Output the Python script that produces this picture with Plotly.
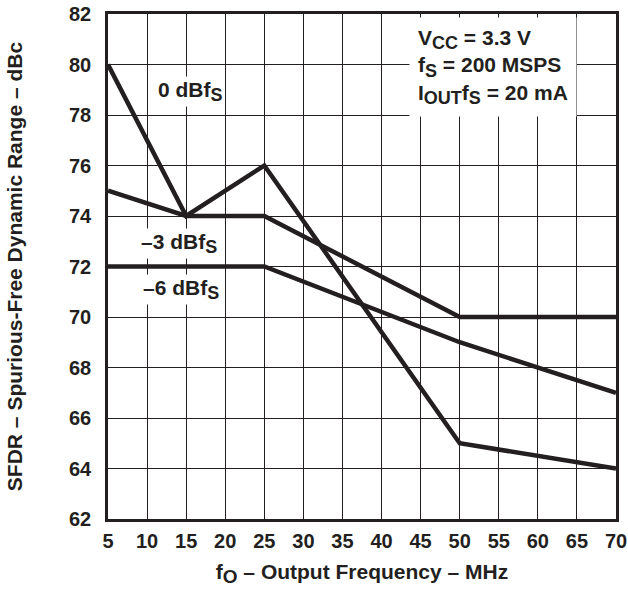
import plotly.graph_objects as go

x_0dbfs = [5, 15, 25, 50, 70]
y_0dbfs = [80, 74, 76, 65, 64]
x_3dbfs = [5, 15, 25, 50, 70]
y_3dbfs = [75, 74, 74, 70, 70]
x_6dbfs = [5, 25, 50, 70]
y_6dbfs = [72, 72, 69, 67]

x_ticks = list(range(5, 71, 5))
y_ticks = list(range(62, 83, 2))

FONT = "Liberation Sans, Arial, sans-serif"
INK = "#231f20"


def sub(t, size=18):
    return f"<sub><span style='font-size:{size}px'>{t}</span></sub>"


fig = go.Figure()
for xs, ys in [(x_0dbfs, y_0dbfs), (x_3dbfs, y_3dbfs), (x_6dbfs, y_6dbfs)]:
    fig.add_trace(go.Scatter(x=xs, y=ys, mode="lines",
                             line=dict(color=INK, width=4.5), showlegend=False,
                             hoverinfo="skip"))

labels = [
    (11.1, 78.92, "0 dBf" + sub("S")),
    (8.95, 72.92, "–3 dBf" + sub("S")),
    (9.2, 71.07, "–6 dBf" + sub("S")),
]
for lx, ly, txt in labels:
    fig.add_annotation(x=lx, y=ly, text=txt, showarrow=False, xanchor="left",
                       yanchor="middle", bgcolor="white", borderpad=1,
                       font=dict(family=FONT, size=21, color=INK, weight="bold"))

box_text = ("V" + sub("CC") + " = 3.3 V<br>f" + sub("S") + " = 200 MSPS<br>I"
            + sub("OUT") + "f" + sub("S") + " = 20 mA")
fig.add_annotation(x=43.5, y=79.9, xanchor="left", yanchor="middle",
                   text=box_text, showarrow=False, align="left", bgcolor="white",
                   borderpad=8,
                   font=dict(family=FONT, size=21, color=INK, weight="bold"))

axis_common = dict(showgrid=True, gridcolor=INK, gridwidth=1, showline=True,
                   linecolor=INK, linewidth=2.5, mirror=True, zeroline=False,
                   ticks="", automargin=False,
                   tickfont=dict(family=FONT, size=20, color=INK, weight="bold"))

fig.update_xaxes(range=[5, 70], tickvals=x_ticks, ticktext=[str(v) for v in x_ticks],
                 ticklabelstandoff=2,
                 title=dict(text="f" + sub("O", 19) + " – Output Frequency – MHz",
                            font=dict(family=FONT, size=21, color=INK, weight="bold"),
                            standoff=14),
                 **axis_common)
fig.update_yaxes(range=[62, 82], tickvals=y_ticks, ticktext=[str(v) for v in y_ticks],
                 ticklabelstandoff=10,
                 title=dict(text="SFDR – Spurious-Free Dynamic Range – dBc",
                            font=dict(family=FONT, size=21, color=INK, weight="bold"),
                            standoff=41),
                 **axis_common)

fig.update_layout(width=628, height=590, plot_bgcolor="white", paper_bgcolor="white",
                  margin=dict(l=108, r=12, t=14, b=71))

fig.write_html("out.html", config={"displayModeBar": False},
               post_script="document.body.style.margin='0';document.body.style.overflow='hidden';")
